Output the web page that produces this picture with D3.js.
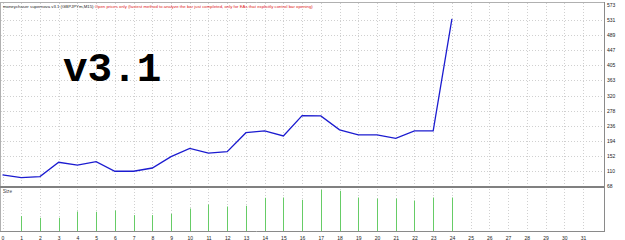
<!DOCTYPE html>
<html>
<head>
<meta charset="utf-8">
<script src="https://cdn.jsdelivr.net/npm/d3@7"></script>
<style>
body { margin: 0; background: #fff; }
svg { display: block; }
</style>
</head>
<body>
<svg></svg>
<script>
const width = 625;
const height = 240;

// data
const bars = d3.range(0, 32);
const balance = [98, 90, 93, 133, 125, 135, 108, 108, 117, 149, 172, 159, 163, 216, 221, 207, 264, 263, 224, 210, 210, 200, 221, 221, 535];
const sizes = [null, 15.4, 13.7, 13.7, 20, 19.7, 21, 16.4, 16.4, 17.7, 23, 27, 25, 25.7, 33.7, 34, 31.7, 41.7, 40.7, 34, 33, 33, 31, 34, 34];
const yTicks = [573, 531, 489, 447, 405, 363, 320, 278, 236, 194, 152, 110, 68];
const titleName = 'moneychaser supernova v3.1 (GBPJPYm,M15)';
const titleMode = 'Open prices only (fastest method to analyze the bar just completed, only for EAs that explicitly control bar opening)';
const stamp = 'v3.1';
const subLabel = 'Size';

var svg;
var xScale;
var yScale;
var sScale;

function grid(){
	// vertical dotted grid, both panels
	svg.append('g').selectAll('line').data(bars).enter().append('line')
	.attr('x1', d => Math.round(xScale(d)) + 0.5).attr('x2', d => Math.round(xScale(d)) + 0.5)
	.attr('y1', 3).attr('y2', 231)
	.style('stroke', '#d0d0d0').style('stroke-dasharray', '1,2');

	// horizontal dotted grid, main panel
	svg.append('g').selectAll('line').data(yTicks.slice(1, -1)).enter().append('line')
	.attr('x1', 1).attr('x2', 604)
	.attr('y1', d => Math.round(yScale(d)) + 0.5).attr('y2', d => Math.round(yScale(d)) + 0.5)
	.style('stroke', '#d0d0d0').style('stroke-dasharray', '1,2');
}

function frame(){
	var g = svg.append('g').style('stroke', '#8a8a8a').style('fill', 'none');
	g.append('line').attr('x1', 0).attr('x2', 605).attr('y1', 2.5).attr('y2', 2.5).style('stroke', '#b0b0b0');
	g.append('line').attr('x1', 0.5).attr('x2', 0.5).attr('y1', 2).attr('y2', 232).style('stroke', '#b0b0b0');
	g.append('rect').attr('x', 0).attr('y', 186).attr('width', 605).attr('height', 2).style('fill', '#808080').style('stroke', 'none');
	g.append('line').attr('x1', 0).attr('x2', 605).attr('y1', 231.5).attr('y2', 231.5);
	g.append('line').attr('x1', 604.5).attr('x2', 604.5).attr('y1', 2).attr('y2', 232);
}

function axes(){
	var ya = svg.append('g').attr('transform', 'translate(605,0)')
	.call(d3.axisRight(yScale).tickValues(yTicks).tickSize(0).tickPadding(2));
	ya.select('.domain').remove();
	ya.selectAll('text').style('font-family', 'Liberation Sans').style('font-size', '5px').style('fill', '#222');

	var xa = svg.append('g').attr('transform', 'translate(0,232)')
	.call(d3.axisBottom(xScale).tickValues(bars).tickSize(0).tickPadding(4));
	xa.select('.domain').remove();
	xa.selectAll('text').style('font-family', 'Liberation Sans').style('font-size', '5px').style('fill', '#222');
}

function render(){
	svg.append('g').selectAll('line.bar').data(sizes.map((v, i) => ({i: i, v: v})).filter(d => d.v != null))
	.enter().append('line').classed('bar', true)
	.attr('x1', d => Math.round(xScale(d.i)) + 0.5).attr('x2', d => Math.round(xScale(d.i)) + 0.5)
	.attr('y1', sScale(0)).attr('y2', d => sScale(d.v))
	.style('stroke', '#66cc66').style('stroke-width', 1);

	var line = d3.line().x((d, i) => xScale(i)).y(d => yScale(d));
	svg.append('path').datum(balance)
	.attr('d', line)
	.style('fill', 'none').style('stroke', '#1c1cd0').style('stroke-width', 1.3);
}

function labels(){
	var t = svg.append('text').attr('x', 3).attr('y', 8)
	.style('font-family', 'Liberation Sans').style('font-size', '4.3px');
	t.append('tspan').text(titleName + ' ').style('fill', '#222');
	t.append('tspan').text(titleMode).style('fill', '#e02020');

	svg.append('text').attr('x', 3).attr('y', 193)
	.style('font-family', 'Liberation Sans').style('font-size', '4.6px').style('fill', '#444')
	.text(subLabel);

	svg.append('text').attr('x', 63).attr('y', 81)
	.style('font-family', 'Liberation Mono').style('font-weight', 'bold').style('font-size', '41px').style('fill', '#000')
	.text(stamp);
}

function init(){
	svg = d3.select('svg').attr('width', width).attr('height', height);

	xScale = d3.scaleLinear().domain([0, 31]).range([2.5, 583]);
	yScale = d3.scaleLinear().domain([68, 573]).range([185.5, 5.3]);
	sScale = d3.scaleLinear().domain([0, 44]).range([231.5, 187.5]);

	grid();
	render();
	frame();
	axes();
	labels();
}

init();
</script>
</body>
</html>
